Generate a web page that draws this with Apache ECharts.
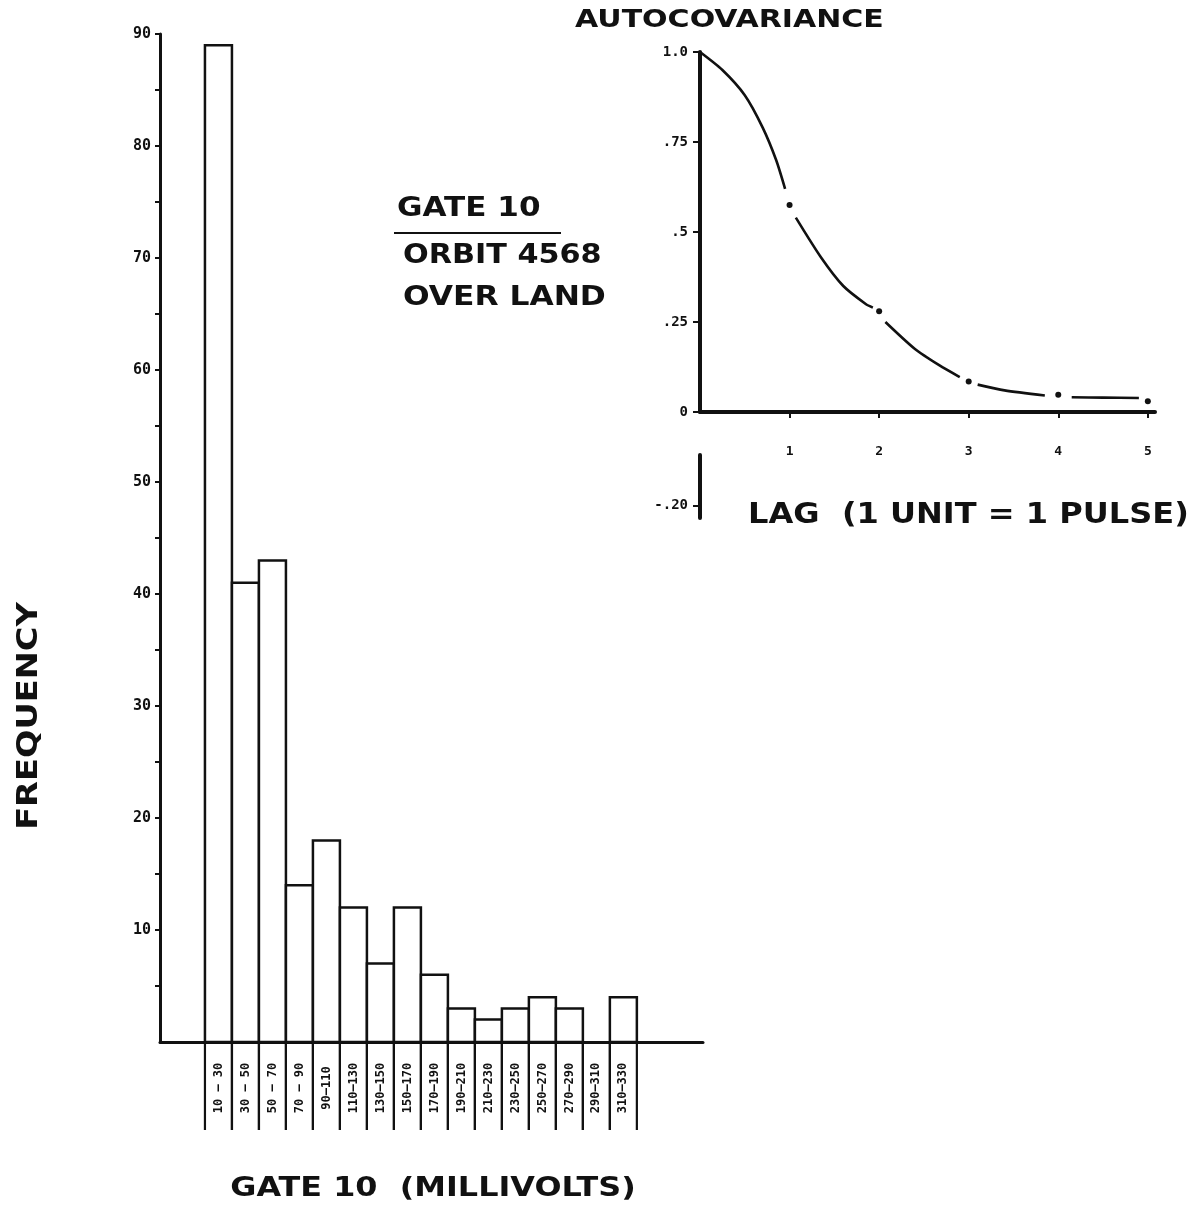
<!DOCTYPE html>
<html>
<head>
<meta charset="utf-8">
<script src="https://cdn.jsdelivr.net/npm/echarts@6/dist/echarts.min.js"></script>
<style>
  html, body { margin: 0; padding: 0; background: #ffffff; }
  #chart { width: 1200px; height: 1206px; }
</style>
</head>
<body>
<div id="chart"></div>
<script>
// ---------- Histogram data (GATE 10, ORBIT 4568, OVER LAND) ----------
const categories = ["10 — 30","30 — 50","50 — 70","70 — 90","90—110","110—130","130—150","150—170",
                    "170—190","190—210","210—230","230—250","250—270","270—290","290—310","310—330"];
const binLo = [10, 30, 50, 70, 90, 110, 130, 150, 170, 190, 210, 230, 250, 270, 290, 310];
const binHi = [30, 50, 70, 90, 110, 130, 150, 170, 190, 210, 230, 250, 270, 290, 310, 330];
const frequency = [89, 41, 43, 14, 18, 12, 7, 12, 6, 3, 2, 3, 4, 3, 0, 4];
const freqTicks = [5, 10, 15, 20, 25, 30, 35, 40, 45, 50, 55, 60, 65, 70, 75, 80, 85, 90];
const freqLabels = [10, 20, 30, 40, 50, 60, 70, 80, 90];

// ---------- Autocovariance data ----------
const lagCurve = [0, 0.25, 0.5, 0.7, 0.85, 0.95, null, 1.07, 1.35, 1.6, 1.85, 1.93, null,
                  2.07, 2.4, 2.67, 2.9, null, 3.1, 3.4, 3.85, null, 4.15, 4.5, 4.9];
const acvCurve = [1.0, 0.95, 0.88, 0.79, 0.70, 0.62, null, 0.54, 0.43, 0.35, 0.30, 0.29, null,
                  0.25, 0.175, 0.13, 0.097, null, 0.076, 0.06, 0.046, null, 0.041, 0.04, 0.039];
const lagDots = [1, 2, 3, 4, 5];
const acvDots = [0.575, 0.28, 0.085, 0.048, 0.03];
const lagTickLabels = [1, 2, 3, 4, 5];
const acvTickValues = [0, 0.25, 0.5, 0.75, 1.0];
const acvTickText = ['0', '.25', '.5', '.75', '1.0'];
const acvNegTicks = [-0.2];
const acvNegText = ['-.20'];

const MONO = '"DejaVu Sans Mono", monospace';
const SANS = '"DejaVu Sans", sans-serif';
const INK = '#111111';

const histData = categories.map((c, i) => [binLo[i], binHi[i], frequency[i]]);
const curveData = lagCurve.map((l, i) => l === null ? ['-', '-'] : [l, acvCurve[i]]);
const dotData = lagDots.map((l, i) => [l, acvDots[i]]);

const chart = echarts.init(document.getElementById('chart'), null, { renderer: 'canvas' });

const option = {
  backgroundColor: '#ffffff',
  animation: false,
  grid: [
    { left: 160, top: 34, width: 543, height: 1008 },      // histogram
    { left: 700, top: 52, width: 455, height: 360 },       // autocovariance
    { left: 700, top: 455, width: 10, height: 63 }         // broken negative segment
  ],
  xAxis: [
    {
      gridIndex: 0, type: 'value', min: -23.3, max: 379,
      axisLine: { show: true, onZero: false, lineStyle: { color: INK, width: 3 } },
      axisTick: { show: false }, axisLabel: { show: false }, splitLine: { show: false }
    },
    {
      gridIndex: 1, type: 'value', min: 0, max: 5.08,
      axisLine: { show: true, onZero: false, lineStyle: { color: INK, width: 4 } },
      axisTick: { show: true, length: 6, customValues: lagTickLabels, lineStyle: { color: INK, width: 2 } },
      axisLabel: { show: true, customValues: lagTickLabels, margin: 33, color: INK,
                   fontFamily: MONO, fontWeight: 'bold', fontSize: 13 },
      splitLine: { show: false }
    },
    {
      gridIndex: 2, type: 'value', min: 0, max: 1, show: false
    }
  ],
  yAxis: [
    {
      gridIndex: 0, type: 'value', min: 0, max: 90,
      axisLine: { show: true, onZero: false, lineStyle: { color: INK, width: 3 } },
      axisTick: { show: true, length: 5, customValues: freqTicks, lineStyle: { color: INK, width: 2 } },
      axisLabel: { show: true, customValues: freqLabels, margin: 9, color: INK,
                   fontFamily: MONO, fontWeight: 'bold', fontSize: 15 },
      splitLine: { show: false }
    },
    {
      gridIndex: 1, type: 'value', min: 0, max: 1.0,
      axisLine: { show: true, onZero: false, lineStyle: { color: INK, width: 4 } },
      axisTick: { show: true, length: 7, customValues: acvTickValues, lineStyle: { color: INK, width: 2 } },
      axisLabel: { show: true, customValues: acvTickValues, margin: 12, color: INK,
                   fontFamily: MONO, fontWeight: 'bold', fontSize: 14,
                   formatter: v => acvTickText[acvTickValues.indexOf(+v)] ?? '' },
      splitLine: { show: false }
    },
    {
      gridIndex: 2, type: 'value', min: -0.235, max: -0.06,
      axisLine: { show: true, onZero: false, lineStyle: { color: INK, width: 4 } },
      axisTick: { show: true, length: 7, customValues: acvNegTicks, lineStyle: { color: INK, width: 2 } },
      axisLabel: { show: true, customValues: acvNegTicks, margin: 12, color: INK,
                   fontFamily: MONO, fontWeight: 'bold', fontSize: 14,
                   formatter: v => acvNegText[acvNegTicks.indexOf(+v)] ?? '' },
      splitLine: { show: false }
    }
  ],
  series: [
    {
      type: 'custom',
      xAxisIndex: 0, yAxisIndex: 0,
      clip: false,
      encode: { x: [0, 1], y: 2 },
      data: histData,
      renderItem: function (params, api) {
        const lo = api.value(0), hi = api.value(1), v = api.value(2);
        const pBase0 = api.coord([lo, 0]);
        const pBase1 = api.coord([hi, 0]);
        const pTop = api.coord([hi, v]);
        const children = [];
        if (v > 0) {
          children.push({
            type: 'rect',
            shape: { x: pBase0[0], y: pTop[1], width: pBase1[0] - pBase0[0], height: pBase0[1] - pTop[1] },
            style: { fill: '#ffffff', stroke: INK, lineWidth: 2.5 }
          });
        }
        const below = 88;
        children.push({ type: 'line', shape: { x1: pBase0[0], y1: pBase0[1], x2: pBase0[0], y2: pBase0[1] + below },
                        style: { stroke: INK, lineWidth: 2.2 } });
        children.push({ type: 'line', shape: { x1: pBase1[0], y1: pBase1[1], x2: pBase1[0], y2: pBase1[1] + below },
                        style: { stroke: INK, lineWidth: 2.2 } });
        children.push({
          type: 'text',
          x: (pBase0[0] + pBase1[0]) / 2, y: pBase0[1] + below / 2 + 2,
          rotation: Math.PI / 2,
          style: { text: categories[params.dataIndex], fill: INK, align: 'center', verticalAlign: 'middle',
                   font: 'bold 12px ' + MONO }
        });
        return { type: 'group', children: children };
      },
      z: 3
    },
    {
      type: 'line',
      xAxisIndex: 1, yAxisIndex: 1,
      data: curveData,
      smooth: 0.25,
      connectNulls: false,
      showSymbol: false,
      symbol: 'none',
      lineStyle: { color: INK, width: 2.6 },
      z: 4
    },
    {
      type: 'scatter',
      xAxisIndex: 1, yAxisIndex: 1,
      data: dotData,
      symbol: 'circle', symbolSize: 6,
      itemStyle: { color: INK, opacity: 1 },
      z: 5
    }
  ],
  graphic: [
    { type: 'text', x: 575, y: 21, style: { text: 'AUTOCOVARIANCE', fill: INK, align: 'left', verticalAlign: 'middle',
      font: 'bold 24px ' + SANS }, scaleX: 1.25 },
    { type: 'text', x: 397, y: 209, style: { text: 'GATE 10', fill: INK, align: 'left', verticalAlign: 'middle',
      font: 'bold 27px ' + SANS }, scaleX: 1.15 },
    { type: 'line', shape: { x1: 394, y1: 233, x2: 561, y2: 233 }, style: { stroke: INK, lineWidth: 2 } },
    { type: 'text', x: 403, y: 256, style: { text: 'ORBIT 4568', fill: INK, align: 'left', verticalAlign: 'middle',
      font: 'bold 27px ' + SANS }, scaleX: 1.12 },
    { type: 'text', x: 403, y: 298, style: { text: 'OVER LAND', fill: INK, align: 'left', verticalAlign: 'middle',
      font: 'bold 27px ' + SANS }, scaleX: 1.16 },
    { type: 'text', x: 748, y: 516, style: { text: 'LAG  (1 UNIT = 1 PULSE)', fill: INK, align: 'left', verticalAlign: 'middle',
      font: 'bold 28px ' + SANS }, scaleX: 1.145 },
    { type: 'text', x: 433, y: 1189, style: { text: 'GATE 10  (MILLIVOLTS)', fill: INK, align: 'center', verticalAlign: 'middle',
      font: 'bold 27px ' + SANS }, scaleX: 1.18 },
    { type: 'text', x: 30, y: 716, rotation: Math.PI / 2, style: { text: 'FREQUENCY', fill: INK, align: 'center', verticalAlign: 'middle',
      font: 'bold 28px ' + SANS }, scaleX: 1.2 }
  ]
};

chart.setOption(option);
</script>
</body>
</html>
